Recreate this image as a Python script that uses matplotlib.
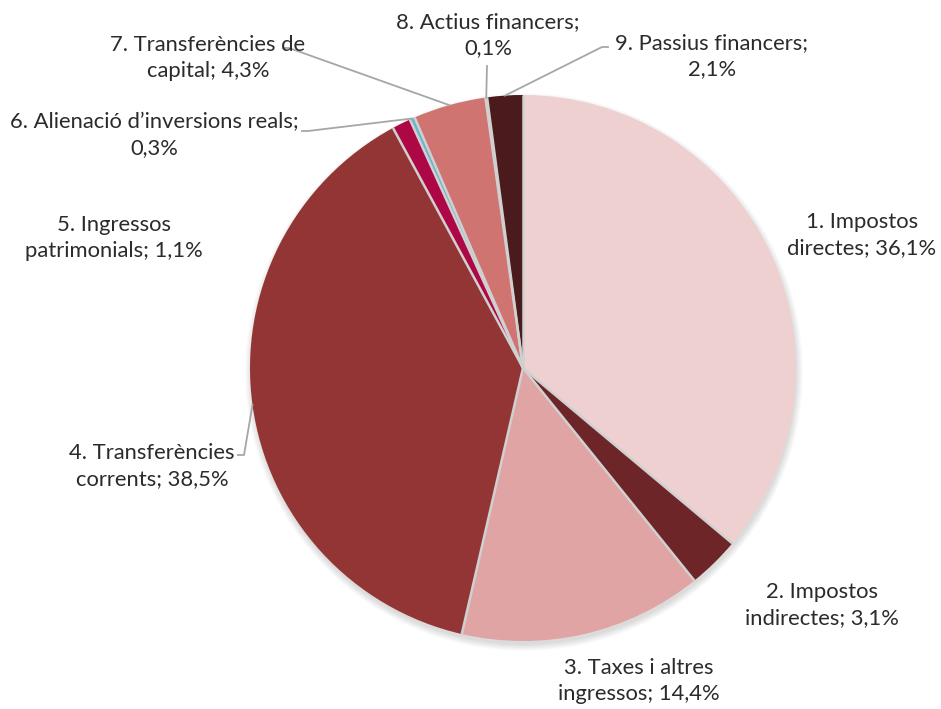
import numpy as np
import matplotlib.pyplot as plt
from matplotlib.patches import Circle

# data
categories = ["1. Impostos\ndirectes", "2. Impostos\nindirectes", "3. Taxes i altres\ningressos",
              "4. Transferències\ncorrents", "5. Ingressos\npatrimonials", "6. Alienació d’inversions reals;\n",
              "7. Transferències de\ncapital", "8. Actius financers;\n", "9. Passius financers;\n"]
shares = [36.1, 3.1, 14.4, 38.5, 1.1, 0.3, 4.3, 0.1, 2.1]
colors = ["#EFD0D1", "#6E2528", "#E0A4A4", "#943535", "#AE0745",
          "#6BB5CC", "#D07472", "#8FC3D6", "#4A1A1C"]

W, H = 941, 709
fig = plt.figure(figsize=(W / 100, H / 100), dpi=100)
ax = fig.add_axes([0, 0, 1, 1])

cx, cy, r = 523, H - 368, 273

# soft shadow
for k in range(12):
    ax.add_patch(Circle((cx + 1, cy - 4), r + 6 - k * 0.6, color="black", alpha=0.012, lw=0, zorder=1))

wedges, _ = ax.pie(shares, colors=colors, startangle=90, counterclock=False,
                   center=(cx, cy), radius=r, frame=True,
                   wedgeprops=dict(linewidth=0))
for w in wedges:
    w.set_zorder(2)
ax.set_xlim(0, W)
ax.set_ylim(0, H)
ax.set_aspect("equal")
ax.axis("off")

# radial separators (light gray), no outer outline
cum = np.cumsum([0] + shares[:-1])
for c0 in cum:
    a = np.deg2rad(90 - 360 * c0 / 100)
    ax.plot([cx, cx + r * np.cos(a)], [cy, cy + r * np.sin(a)], color="#D0D0D0", lw=1.8,
            solid_capstyle="butt", zorder=3)

def fmt(c, v):
    sep = "" if c.endswith("\n") else "; "
    return f"{c}{sep}" + f"{v:.1f}".replace(".", ",") + "%"

# label centers (pixel coords, y from top)
label_pos = [(862, 235), (822, 605), (639, 681), (152, 466), (114, 238),
             (154, 135), (208, 58), (488, 35), (712, 56)]
# leader start points (pixel coords), hook direction
leader_start = [None, None, None, (238, 455, 1), None, (302, 131, 1), (283, 48, 1), (487, 66, 0), (608, 47, -1)]

for i, (c, v) in enumerate(zip(categories, shares)):
    lx, ly = label_pos[i]
    ax.text(lx, H - ly, fmt(c, v), ha="center", va="center", fontsize=15.8,
            family="Lato", color="#2B2B2B", linespacing=1.38, zorder=5)
    if leader_start[i] is not None:
        frac = (cum[i] + v / 2) / 100
        ang = np.deg2rad(90 - 360 * frac)
        ex, ey = cx + r * np.cos(ang), cy + r * np.sin(ang)
        sx, sy, d = leader_start[i]
        sy = H - sy
        hx = sx + 6 * d
        ax.plot([sx, hx, ex], [sy, sy, ey], color="#A6A6A6", lw=1.3, zorder=3)

fig.savefig("out.png", dpi=100)
